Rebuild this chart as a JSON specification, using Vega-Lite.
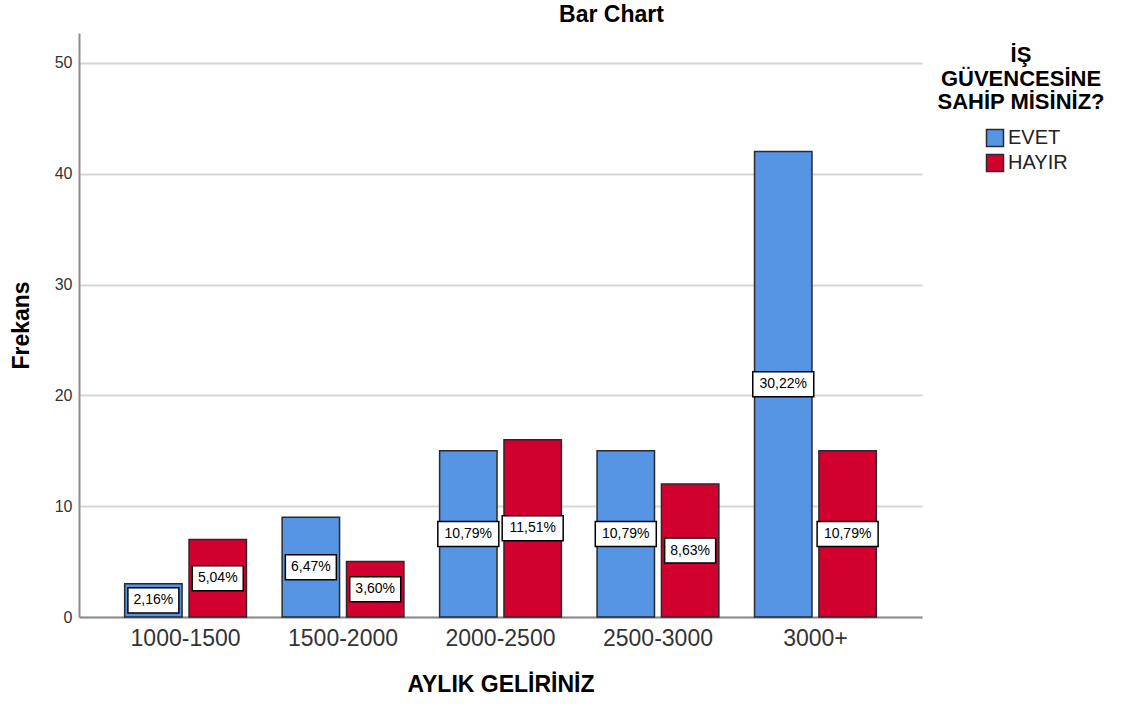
{
  "$schema": "https://vega.github.io/schema/vega-lite/v6.json",
  "width": 843,
  "height": 584,
  "autosize": "none",
  "padding": {"left": 79, "top": 33, "right": 200, "bottom": 87},
  "config": {
    "font": "Liberation Sans",
    "view": {"stroke": null},
    "axis": {"labelFont": "Liberation Sans", "titleFont": "Liberation Sans"}
  },
  "title": {
    "text": "Bar Chart",
    "fontSize": 23,
    "fontWeight": "bold",
    "color": "#000000",
    "anchor": "middle",
    "dx": 111,
    "offset": 6
  },
  "data": {
    "values": [
      {"gelir": "1000-1500", "group": "EVET", "value": 3, "pct": "2,16%"},
      {"gelir": "1000-1500", "group": "HAYIR", "value": 7, "pct": "5,04%"},
      {"gelir": "1500-2000", "group": "EVET", "value": 9, "pct": "6,47%"},
      {"gelir": "1500-2000", "group": "HAYIR", "value": 5, "pct": "3,60%"},
      {"gelir": "2000-2500", "group": "EVET", "value": 15, "pct": "10,79%"},
      {"gelir": "2000-2500", "group": "HAYIR", "value": 16, "pct": "11,51%"},
      {"gelir": "2500-3000", "group": "EVET", "value": 15, "pct": "10,79%"},
      {"gelir": "2500-3000", "group": "HAYIR", "value": 12, "pct": "8,63%"},
      {"gelir": "3000+", "group": "EVET", "value": 42, "pct": "30,22%"},
      {"gelir": "3000+", "group": "HAYIR", "value": 15, "pct": "10,79%"}
    ]
  },
  "encoding": {
    "x": {
      "field": "gelir",
      "type": "nominal",
      "sort": ["1000-1500", "1500-2000", "2000-2500", "2500-3000", "3000+"],
      "scale": {"paddingInner": 0.2266, "paddingOuter": 0.29},
      "axis": {
        "title": "AYLIK GELİRİNİZ",
        "titleFontSize": 23,
        "titleFontWeight": "bold",
        "titleColor": "#000000",
        "titlePadding": 23,
        "labelFontSize": 23,
        "labelColor": "#333333",
        "labelAngle": 0,
        "labelPadding": 10,
        "ticks": false,
        "tickSize": 0,
        "domainColor": "#8c8c8c",
        "domainWidth": 2,
        "grid": false
      }
    },
    "xOffset": {
      "field": "group",
      "type": "nominal",
      "sort": ["EVET", "HAYIR"],
      "scale": {"paddingInner": 0.108, "paddingOuter": 0}
    }
  },
  "layer": [
    {
      "mark": {"type": "bar", "stroke": "#2a2a2a", "strokeWidth": 1.5},
      "encoding": {
        "y": {
          "field": "value",
          "type": "quantitative",
          "scale": {"domain": [0, 52.7], "nice": false},
          "axis": {
            "title": "Frekans",
            "titleFontSize": 23,
            "titleFontWeight": "bold",
            "titleColor": "#000000",
            "titlePadding": 21,
            "labelFontSize": 16,
            "labelColor": "#333333",
            "labelPadding": 7,
            "ticks": false,
            "tickSize": 0,
            "values": [0, 10, 20, 30, 40, 50],
            "domainColor": "#8c8c8c",
            "domainWidth": 2,
            "grid": true,
            "gridColor": "#d6d6d6",
            "gridWidth": 2
          }
        },
        "color": {
          "field": "group",
          "type": "nominal",
          "scale": {"domain": ["EVET", "HAYIR"], "range": ["#5595E4", "#D2002E"]},
          "legend": {
            "title": ["İŞ", "GÜVENCESİNE", "SAHİP MİSİNİZ?"],
            "orient": "none",
            "legendX": 858,
            "legendY": 12,
            "padding": 0,
            "titleFontSize": 22,
            "titleFontWeight": "bold",
            "titleColor": "#000000",
            "titleAlign": "center",
            "titleAnchor": "middle",
            "titleLineHeight": 23.5,
            "titlePadding": 14,
            "symbolType": "square",
            "symbolSize": 289,
            "symbolStrokeColor": "#2a2a2a",
            "symbolStrokeWidth": 1.5,
            "symbolOpacity": 1,
            "symbolOffset": 11,
            "labelFontSize": 20,
            "labelColor": "#222222",
            "labelOffset": 3,
            "rowPadding": 1
          }
        }
      }
    },
    {
      "encoding": {
        "y": {
          "field": "value",
          "type": "quantitative",
          "scale": {"domain": [0, 105.4], "nice": false},
          "axis": null
        }
      },
      "layer": [
        {
          "mark": {"type": "point", "filled": true, "fill": "#ffffff", "stroke": "#000000", "strokeWidth": 1.5, "opacity": 1, "size": 3721},
          "encoding": {
            "shape": {
              "condition": {"test": "length(datum.pct) > 5", "value": "M-1,-0.41L1,-0.41L1,0.41L-1,0.41Z"},
              "value": "M-0.836,-0.41L0.836,-0.41L0.836,0.41L-0.836,0.41Z"
            }
          }
        },
        {
          "mark": {"type": "text", "fontSize": 14, "color": "#000000", "align": "center", "baseline": "middle"},
          "encoding": {"text": {"field": "pct", "type": "nominal"}}
        }
      ]
    }
  ],
  "resolve": {"scale": {"y": "independent"}}
}
